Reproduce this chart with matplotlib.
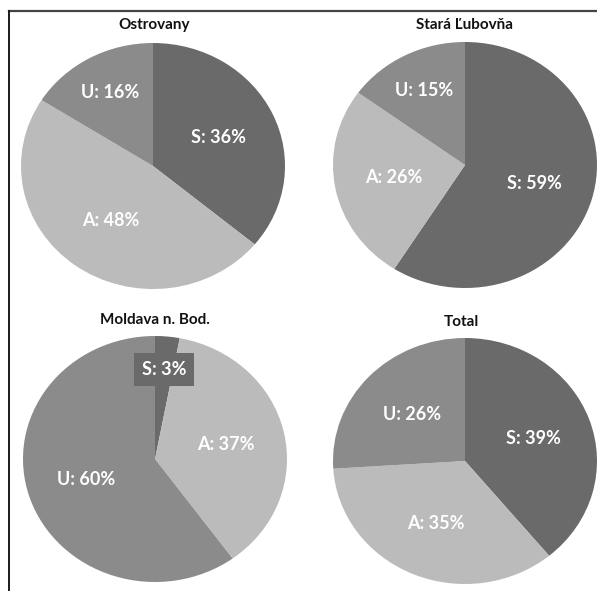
import matplotlib
matplotlib.use("Agg")
import matplotlib.pyplot as plt
import numpy as np

plt.rcParams['font.family'] = ['Lato', 'DejaVu Sans']

# data
titles = ['Ostrovany', 'Stará Ľubovňa', 'Moldava n. Bod.', 'Total']
categories = ['S', 'A', 'U']
ostrovany = [36, 48, 16]
stara_lubovna = [59, 26, 15]
moldava = [3, 37, 60]
total = [39, 35, 26]
series = [ostrovany, stara_lubovna, moldava, total]
colors = ['#6a6a6a', '#bbbbbb', '#8b8b8b']

W, H = 597, 591
fig = plt.figure(figsize=(W / 100, H / 100), dpi=100)

# pixel centres of each pie and of each title
centres = [(153, 166), (465, 165), (155, 459), (465, 461)]
title_pos = [(154, 25), (465, 25), (155, 320), (461, 322)]
rx, ry = 132, 123

for vals, title, (cx, cy), (tx, ty) in zip(series, titles, centres, title_pos):
    ax = fig.add_axes([(cx - rx) / W, 1 - (cy + ry) / H, 2 * rx / W, 2 * ry / H])
    wedges, _ = ax.pie(vals, colors=colors, startangle=90, counterclock=False,
                       wedgeprops=dict(linewidth=0))
    ax.set_aspect('auto')
    ax.set_xlim(-1, 1)
    ax.set_ylim(-1, 1)
    ax.axis('off')
    for w, cat, v in zip(wedges, categories, vals):
        ang = np.deg2rad((w.theta1 + w.theta2) / 2)
        r = 0.55 if v >= 20 else (0.68 if v >= 10 else 0.73)
        kw = {}
        if v < 10:
            kw['bbox'] = dict(boxstyle='square,pad=0.45', fc=colors[0], ec='none')
        ax.text(r * np.cos(ang), r * np.sin(ang), f'{cat}: {v}%', ha='center',
                va='center', color='white', fontsize=13, fontweight='bold', **kw)
    fig.text(tx / W, 1 - ty / H, title, ha='center', va='center',
             fontsize=11, fontweight='bold', color='#111111')

# frame lines (top and left)
fig.add_artist(plt.Line2D([8.5 / W, 1], [1 - 10.5 / H] * 2, color='#444444', lw=1.6,
                          transform=fig.transFigure))
fig.add_artist(plt.Line2D([8.5 / W] * 2, [0, 1 - 10.5 / H], color='#1a1a1a', lw=1.4,
                          transform=fig.transFigure))

fig.savefig('out.png', dpi=100)
